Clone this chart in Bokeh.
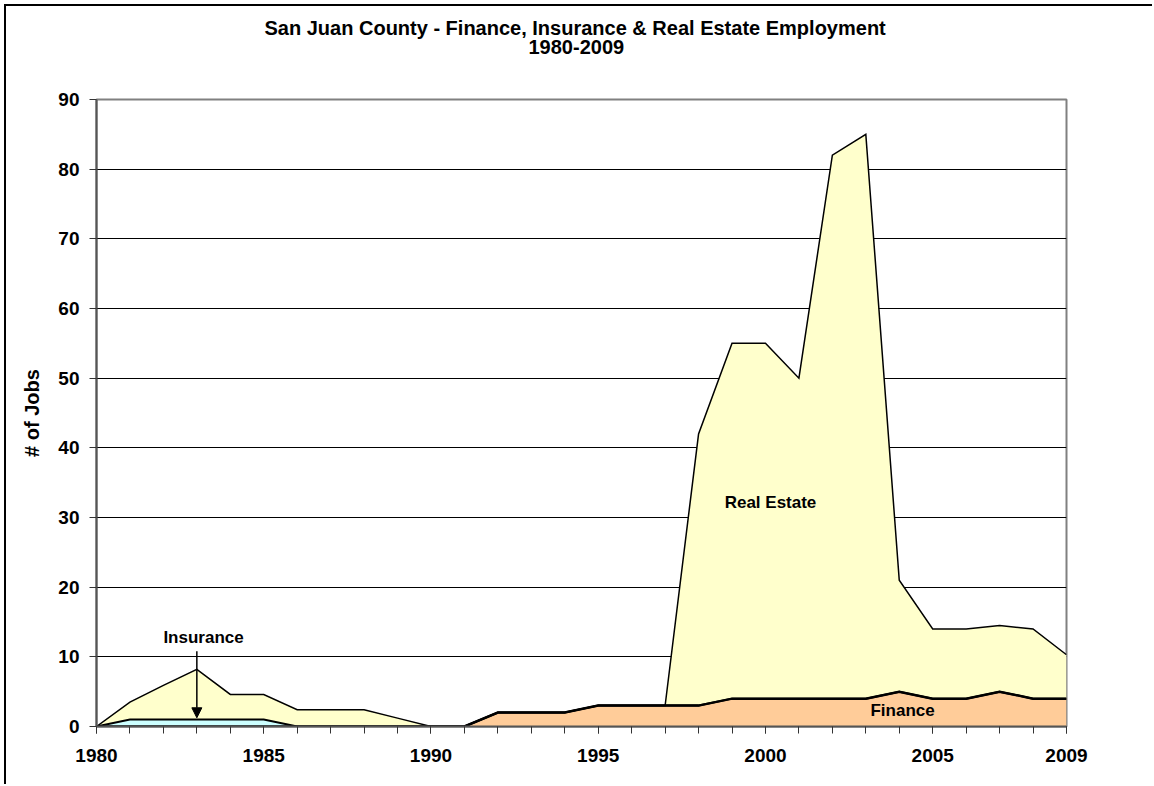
from bokeh.plotting import figure
from bokeh.models import (ColumnDataSource, FixedTicker, Label, Arrow, NormalHead, Title,
                          Range1d, LinearAxis, CustomJSTickFormatter)
from bokeh.transform import stack
from bokeh.embed import file_html
from bokeh.resources import INLINE

# Employment by sector, San Juan County, 1980-2009 (number of jobs)
years = list(range(1980, 2010))
finance = [0, 0, 0, 0, 0, 0, 0, 0, 0, 0, 0, 0,
           2, 2, 2, 3, 3, 3, 3, 4, 4, 4, 4, 4, 5, 4, 4, 5, 4, 4]
insurance = [0, 1, 1, 1, 1, 1, 0, 0, 0, 0, 0, 0,
             0, 0, 0, 0, 0, 0, 0, 0, 0, 0, 0, 0, 0, 0, 0, 0, 0, 0]
real_estate = [0, 2.5, 4.9, 7.2, 3.6, 3.6, 2.4, 2.4, 2.4, 1.2, 0, 0,
               0, 0, 0, 0, 0, 0, 39, 51, 51, 46, 78, 81, 16, 10, 10, 9.5, 10, 6.3]

series = ["finance", "insurance", "real_estate"]
fills = ["#FFCC99", "#CCFFFF", "#FFFFCC"]
edge_widths = [2.5, 2.0, 1.5]

y_ticks = list(range(0, 91, 10))
x_label_ticks = [1980, 1985, 1990, 1995, 2000, 2005, 2009]

FONT = "Liberation Sans"

src = ColumnDataSource(dict(year=years, finance=finance,
                            insurance=insurance, real_estate=real_estate))

p = figure(width=1148, height=780,
           x_range=Range1d(1980, 2009), y_range=Range1d(0, 90),
           output_backend="svg", toolbar_location=None,
           min_border_left=90, min_border_right=88,
           min_border_top=93, min_border_bottom=60)
p.styles = {"margin-left": "4px", "margin-top": "4px",
            "border-left": "2px solid #000000", "border-top": "2px solid #000000"}

xaxis = p.below[0]
yaxis = p.left[0]

p.title.visible = False

# empty band between the titles and the plot area (invisible ticks, blank labels)
gap = LinearAxis(ticker=FixedTicker(ticks=[1995]), axis_line_color=None,
                 major_tick_out=46, major_tick_in=0, minor_tick_out=0, minor_tick_in=0,
                 major_tick_line_color=None, minor_tick_line_color=None,
                 major_label_standoff=0, major_label_text_font_size="1px",
                 formatter=CustomJSTickFormatter(code="return ''"))
p.add_layout(gap, "above")

def add_title(text, standoff, offset):
    p.add_layout(Title(text=text, align="left", offset=offset, text_font=FONT,
                       text_font_size="20px", text_font_style="bold",
                       text_color="#000000", standoff=standoff),
                 "above")

add_title("1980-2009", 0, 432)
add_title("San Juan County - Finance, Insurance & Real Estate Employment", -2, 168)

p.outline_line_color = "#808080"
p.outline_line_width = 2

# stacked areas
p.varea_stack(stackers=series, x="year", color=fills, source=src)
# boundary line on top of each layer
for i, name in enumerate(series):
    p.line(x="year", y=stack(*series[: i + 1]), source=src,
           line_color="black", line_width=edge_widths[i], line_join="miter")

# grid
p.xgrid.visible = False
p.ygrid.ticker = FixedTicker(ticks=y_ticks)
p.ygrid.grid_line_color = "#000000"
p.ygrid.grid_line_width = 1

# axes
for ax in (xaxis, yaxis):
    ax.axis_line_color = "#555555"
    ax.axis_line_width = 2
    ax.major_tick_line_color = "#333333"
    ax.minor_tick_line_color = "#333333"
    ax.major_tick_in = 0
    ax.major_tick_out = 7
    ax.minor_tick_in = 0
    ax.minor_tick_out = 7
    ax.major_label_text_font = FONT
    ax.major_label_text_font_style = "bold"
    ax.major_label_text_font_size = "19px"
    ax.major_label_text_color = "#000000"

xaxis.ticker = FixedTicker(ticks=x_label_ticks, minor_ticks=years)
xaxis.major_label_standoff = 15
yaxis.ticker = FixedTicker(ticks=y_ticks)
yaxis.major_label_standoff = 10
yaxis.axis_label = "# of Jobs"
yaxis.axis_label_text_font = FONT
yaxis.axis_label_text_font_style = "bold"
yaxis.axis_label_text_font_size = "20px"
yaxis.axis_label_standoff = 12
yaxis.axis_label_text_color = "#000000"

# series labels
def series_label(x, y, text):
    p.add_layout(Label(x=x, y=y, text=text, text_align="center", text_baseline="middle",
                       text_font=FONT, text_font_style="bold", text_font_size="17px",
                       text_color="#000000"))

series_label(1983.2, 12.8, "Insurance")
series_label(2000.15, 32.2, "Real Estate")
series_label(2004.1, 2.3, "Finance")

p.add_layout(Arrow(end=NormalHead(size=10, fill_color="black", line_color="black"),
                   x_start=1983, y_start=10.8, x_end=1983, y_end=1.25,
                   line_color="black", line_width=1.5))

open("out.html", "w").write(file_html(p, INLINE))
